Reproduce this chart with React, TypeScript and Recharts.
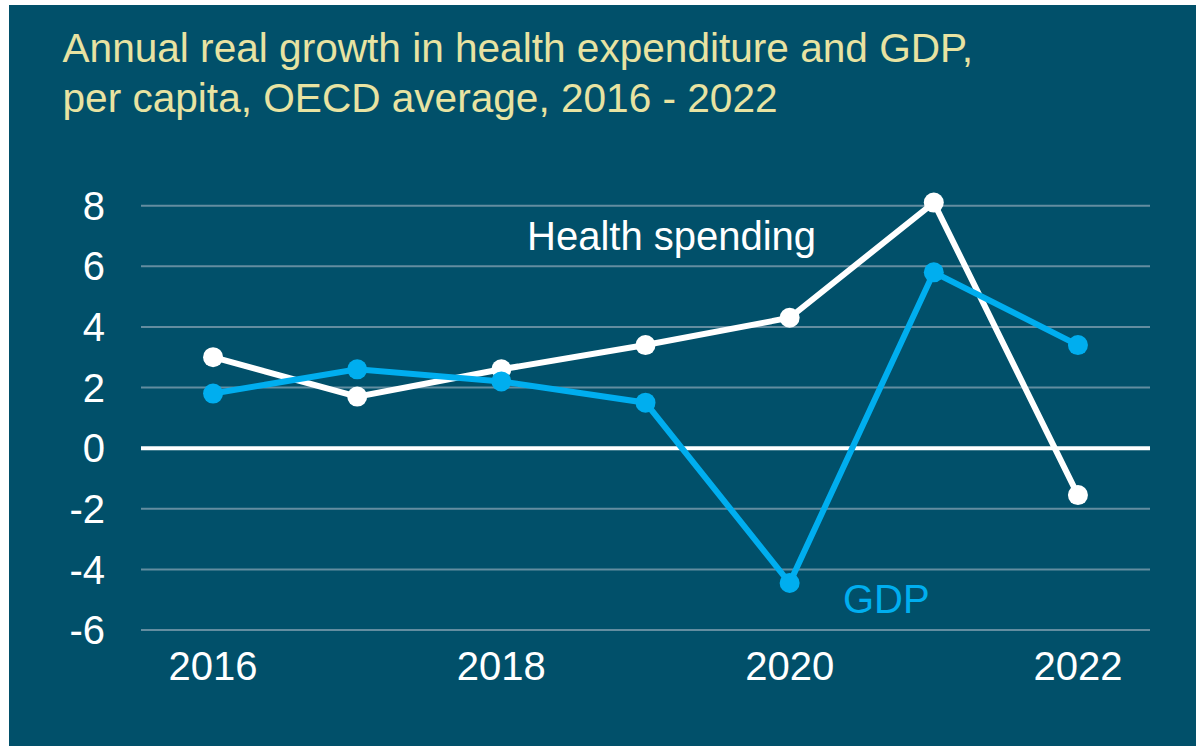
import React from "react";
import { LineChart, Line, XAxis, YAxis, ReferenceLine } from "recharts";

const years = [2016, 2017, 2018, 2019, 2020, 2021, 2022];
const healthSpending = [3.0, 1.7, 2.6, 3.4, 4.3, 8.1, -1.55];
const gdp = [1.8, 2.6, 2.2, 1.5, -4.45, 5.8, 3.4];
const xTicks = [2016, 2018, 2020, 2022];
const yTicks = [-6, -4, -2, 0, 2, 4, 6, 8];
const titleLines = ["Annual real growth in health expenditure and GDP,", "per capita, OECD average, 2016 - 2022"];

const data = years.map((y, i) => ({ year: y, health: healthSpending[i], gdp: gdp[i] }));

const FONT = '"Liberation Sans", Arial, sans-serif';
const BG = "#01506a";
const BLUE = "#00aeef";
const TITLE = "#e8e3a2";

export default function App() {
  const W = 1187;
  const H = 741;
  return (
    <div style={{ position: "fixed", left: 9, top: 5, width: W, height: H, background: BG, fontFamily: FONT }}>
      <LineChart width={W} height={H} data={data} margin={{ top: 197.6, right: 46, left: 0, bottom: 0 }}>
        <XAxis
          dataKey="year"
          type="number"
          domain={[2015.5, 2022.5]}
          ticks={xTicks}
          height={116}
          axisLine={false}
          tickLine={false}
          tickSize={0}
          tickMargin={22}
          tick={{ fill: "#ffffff", fontSize: 40, fontFamily: FONT }}
        />
        <YAxis
          type="number"
          domain={[-6, 8]}
          ticks={yTicks}
          width={132}
          axisLine={false}
          tickLine={false}
          tickSize={0}
          tickMargin={36}
          tick={{ fill: "#ffffff", fontSize: 40, fontFamily: FONT }}
        />
        {yTicks.map((t) => (
          <ReferenceLine
            key={t}
            y={t}
            stroke={t === 0 ? "#ffffff" : "#638da0"}
            strokeWidth={t === 0 ? 4 : 2}
          />
        ))}
        <Line
          dataKey="health"
          stroke="#ffffff"
          strokeWidth={6}
          dot={{ r: 10, fill: "#ffffff", stroke: "#ffffff", strokeWidth: 0 }}
          isAnimationActive={false}
        />
        <Line
          dataKey="gdp"
          stroke={BLUE}
          strokeWidth={6}
          dot={{ r: 10, fill: BLUE, stroke: BLUE, strokeWidth: 0 }}
          isAnimationActive={false}
        />
      </LineChart>
      <svg width={W} height={H} style={{ position: "absolute", left: 0, top: 0, pointerEvents: "none" }}>
        <text x={53.5} y={57} fill={TITLE} fontSize={40.6} fontFamily={FONT}>{titleLines[0]}</text>
        <text x={53.5} y={107} fill={TITLE} fontSize={40.6} fontFamily={FONT}>{titleLines[1]}</text>
        <text x={518} y={245} fill="#ffffff" fontSize={40} fontFamily={FONT}>Health spending</text>
        <text x={834} y={608} fill={BLUE} fontSize={40} fontFamily={FONT}>GDP</text>
      </svg>
    </div>
  );
}
